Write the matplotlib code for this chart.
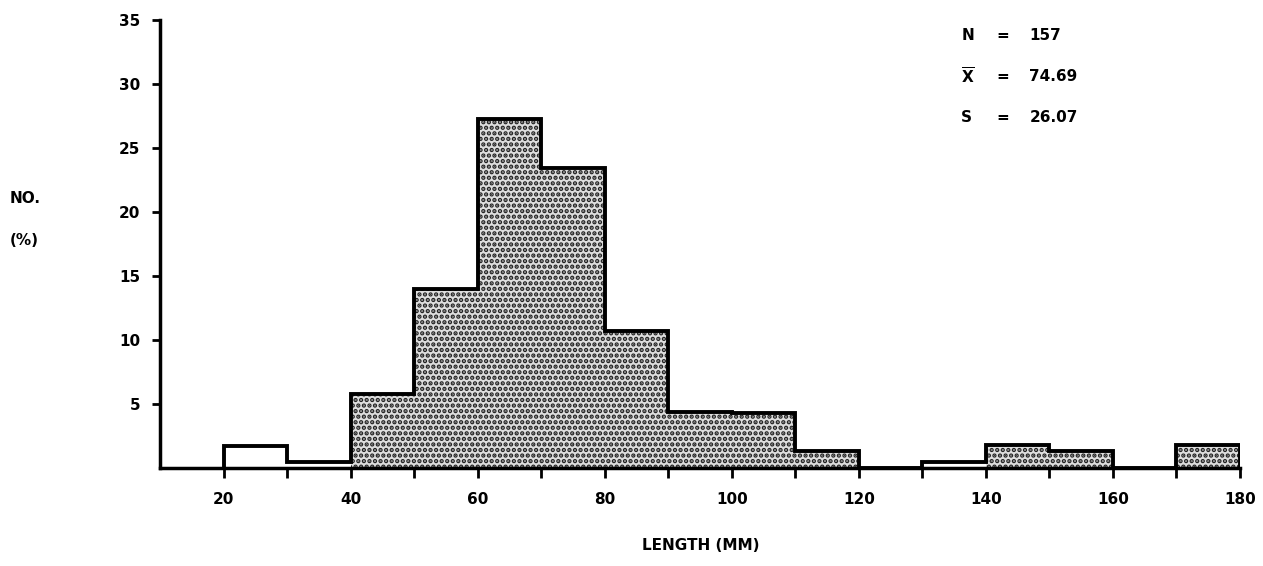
import matplotlib
matplotlib.use("Agg")
import matplotlib.pyplot as plt

# histogram of lengths, percent per 10 mm class
bin_edges = [20, 30, 40, 50, 60, 70, 80, 90, 100, 110, 120, 130, 140, 150, 160, 170, 180]
percent = [1.7, 0.5, 5.8, 14.0, 27.3, 23.4, 10.7, 4.4, 4.3, 1.3, 0.0, 0.5, 1.8, 1.3, 0.0, 1.8]
shaded = [False, False, True, True, True, True, True, True, True, True, False, False, True, True, False, True]

xticks = list(range(20, 181, 10))
xlabels = [str(v) if v % 20 == 0 else "" for v in xticks]
yticks = [5, 10, 15, 20, 25, 30, 35]

stats_names = ["N", r"$\mathbf{\overline{X}}$", "S"]
stats_values = ["157", "74.69", "26.07"]

plt.rcParams["font.family"] = "DejaVu Sans"
plt.rcParams["font.weight"] = "bold"
plt.rcParams["hatch.linewidth"] = 2.2

fig = plt.figure(figsize=(12.63, 5.66), dpi=100)
ax = fig.add_axes([0.1267, 0.1731, 0.855, 0.7916])

widths = [bin_edges[i + 1] - bin_edges[i] for i in range(len(percent))]
for i in range(len(percent)):
    if shaded[i] and percent[i] > 0:
        ax.bar(bin_edges[i], percent[i], width=widths[i], align="edge",
               facecolor="#dedede", edgecolor="#222222", linewidth=0,
               hatch="...", zorder=1)

ax.stairs(percent, bin_edges, baseline=0, fill=False, color="black",
          linewidth=2.8, zorder=3)

ax.set_xlim(10, 180)
ax.set_ylim(0, 35)
ax.spines["top"].set_visible(False)
ax.spines["right"].set_visible(False)
ax.spines["left"].set_linewidth(2.5)
ax.spines["bottom"].set_linewidth(2.5)

ax.set_xticks(xticks)
ax.set_xticklabels(xlabels)
ax.set_yticks(yticks)
ax.tick_params(axis="x", direction="out", length=7, width=2, labelsize=11, pad=10)
ax.tick_params(axis="y", direction="out", length=6, width=2, labelsize=11, pad=8)

fig.text(0.555, 0.023, "LENGTH (MM)", ha="center", va="bottom",
         fontsize=11, fontweight="bold")
fig.text(0.008, 0.65, "NO.", ha="left", va="center", fontsize=11, fontweight="bold")
fig.text(0.008, 0.575, "(%)", ha="left", va="center", fontsize=11, fontweight="bold")

for k in range(len(stats_names)):
    y = 0.937 - k * 0.072
    fig.text(0.761, y, stats_names[k], ha="left", va="center", fontsize=11, fontweight="bold")
    fig.text(0.789, y, "=", ha="left", va="center", fontsize=11, fontweight="bold")
    fig.text(0.815, y, stats_values[k], ha="left", va="center", fontsize=11, fontweight="bold")

fig.savefig("out.png", dpi=100)
